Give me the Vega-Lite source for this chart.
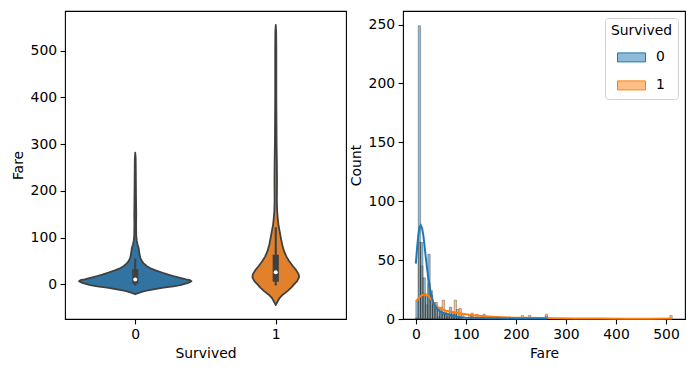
{
  "$schema": "https://vega.github.io/schema/vega-lite/v6.json",
  "padding": {"left": 10, "top": 10, "right": 9, "bottom": 8},
  "spacing": 1,
  "config": {
    "font": "DejaVu Sans",
    "view": {"stroke": "black", "strokeWidth": 1.1},
    "axis": {"domain": false, "grid": false, "tickColor": "black", "tickSize": 4.9, "tickWidth": 1.1, "labelColor": "black", "labelFontSize": 13.9, "labelPadding": 3.5, "titleColor": "black", "titleFontSize": 13.9, "titleFontWeight": "normal", "titlePadding": 5, "labelFont": "DejaVu Sans", "titleFont": "DejaVu Sans"}
  },
  "resolve": {"scale": {"fill": "independent", "stroke": "independent"}, "legend": {"fill": "independent"}},
  "datasets": {
    "violin": [
      {"s": 0, "fare": -21, "lo": 0, "hi": 0},
      {"s": 0, "fare": -17, "lo": -0.035, "hi": 0.035},
      {"s": 0, "fare": -14, "lo": -0.071, "hi": 0.071},
      {"s": 0, "fare": -10, "lo": -0.14, "hi": 0.14},
      {"s": 0, "fare": -7, "lo": -0.2, "hi": 0.2},
      {"s": 0, "fare": -4, "lo": -0.27, "hi": 0.27},
      {"s": 0, "fare": -1.5, "lo": -0.32, "hi": 0.32},
      {"s": 0, "fare": 2, "lo": -0.365, "hi": 0.365},
      {"s": 0, "fare": 5, "lo": -0.39, "hi": 0.39},
      {"s": 0, "fare": 7, "lo": -0.4, "hi": 0.4},
      {"s": 0, "fare": 9, "lo": -0.39, "hi": 0.39},
      {"s": 0, "fare": 11, "lo": -0.36, "hi": 0.36},
      {"s": 0, "fare": 14, "lo": -0.32, "hi": 0.32},
      {"s": 0, "fare": 18, "lo": -0.27, "hi": 0.27},
      {"s": 0, "fare": 21, "lo": -0.235, "hi": 0.235},
      {"s": 0, "fare": 25, "lo": -0.195, "hi": 0.195},
      {"s": 0, "fare": 30, "lo": -0.145, "hi": 0.145},
      {"s": 0, "fare": 35, "lo": -0.105, "hi": 0.105},
      {"s": 0, "fare": 39, "lo": -0.083, "hi": 0.083},
      {"s": 0, "fare": 45, "lo": -0.06, "hi": 0.06},
      {"s": 0, "fare": 50, "lo": -0.047, "hi": 0.047},
      {"s": 0, "fare": 57, "lo": -0.036, "hi": 0.036},
      {"s": 0, "fare": 65, "lo": -0.03, "hi": 0.03},
      {"s": 0, "fare": 72, "lo": -0.027, "hi": 0.027},
      {"s": 0, "fare": 78, "lo": -0.024, "hi": 0.024},
      {"s": 0, "fare": 85, "lo": -0.017, "hi": 0.017},
      {"s": 0, "fare": 93, "lo": -0.011, "hi": 0.011},
      {"s": 0, "fare": 105, "lo": -0.007, "hi": 0.007},
      {"s": 0, "fare": 130, "lo": -0.006, "hi": 0.006},
      {"s": 0, "fare": 150, "lo": -0.007, "hi": 0.007},
      {"s": 0, "fare": 170, "lo": -0.006, "hi": 0.006},
      {"s": 0, "fare": 200, "lo": -0.005, "hi": 0.005},
      {"s": 0, "fare": 240, "lo": -0.004, "hi": 0.004},
      {"s": 0, "fare": 270, "lo": -0.003, "hi": 0.003},
      {"s": 0, "fare": 282, "lo": 0, "hi": 0},
      {"s": 1, "fare": -44, "lo": 1, "hi": 1},
      {"s": 1, "fare": -38, "lo": 0.99, "hi": 1.01},
      {"s": 1, "fare": -33, "lo": 0.98, "hi": 1.02},
      {"s": 1, "fare": -28.6, "lo": 0.972, "hi": 1.028},
      {"s": 1, "fare": -22, "lo": 0.95, "hi": 1.05},
      {"s": 1, "fare": -14.3, "lo": 0.917, "hi": 1.083},
      {"s": 1, "fare": -7, "lo": 0.89, "hi": 1.11},
      {"s": 1, "fare": 0, "lo": 0.87, "hi": 1.13},
      {"s": 1, "fare": 7, "lo": 0.848, "hi": 1.152},
      {"s": 1, "fare": 15, "lo": 0.834, "hi": 1.166},
      {"s": 1, "fare": 22, "lo": 0.837, "hi": 1.163},
      {"s": 1, "fare": 32, "lo": 0.858, "hi": 1.142},
      {"s": 1, "fare": 40, "lo": 0.88, "hi": 1.12},
      {"s": 1, "fare": 50, "lo": 0.905, "hi": 1.095},
      {"s": 1, "fare": 60, "lo": 0.925, "hi": 1.075},
      {"s": 1, "fare": 71, "lo": 0.941, "hi": 1.059},
      {"s": 1, "fare": 85, "lo": 0.954, "hi": 1.046},
      {"s": 1, "fare": 100, "lo": 0.964, "hi": 1.036},
      {"s": 1, "fare": 115, "lo": 0.973, "hi": 1.027},
      {"s": 1, "fare": 128, "lo": 0.981, "hi": 1.019},
      {"s": 1, "fare": 142, "lo": 0.986, "hi": 1.014},
      {"s": 1, "fare": 157, "lo": 0.99, "hi": 1.01},
      {"s": 1, "fare": 180, "lo": 0.992, "hi": 1.008},
      {"s": 1, "fare": 220, "lo": 0.991, "hi": 1.009},
      {"s": 1, "fare": 260, "lo": 0.992, "hi": 1.008},
      {"s": 1, "fare": 300, "lo": 0.994, "hi": 1.006},
      {"s": 1, "fare": 350, "lo": 0.995, "hi": 1.005},
      {"s": 1, "fare": 400, "lo": 0.996, "hi": 1.004},
      {"s": 1, "fare": 450, "lo": 0.996, "hi": 1.004},
      {"s": 1, "fare": 500, "lo": 0.996, "hi": 1.004},
      {"s": 1, "fare": 540, "lo": 0.997, "hi": 1.003},
      {"s": 1, "fare": 555, "lo": 1, "hi": 1}
    ],
    "box": [
      {"s": 0, "pos": 0, "wlo": 0, "whi": 53.1, "q1": 7.854, "q3": 26, "med": 10.5},
      {"s": 1, "pos": 1, "wlo": 0, "whi": 120, "q1": 12.475, "q3": 57, "med": 26}
    ],
    "hist": [
      {"s": 1, "x0": 0, "x1": 4.788, "n": 1},
      {"s": 1, "x0": 4.788, "x1": 9.576, "n": 65},
      {"s": 1, "x0": 9.576, "x1": 14.364, "n": 45},
      {"s": 1, "x0": 14.364, "x1": 19.152, "n": 22},
      {"s": 1, "x0": 19.152, "x1": 23.94, "n": 12},
      {"s": 1, "x0": 23.94, "x1": 28.728, "n": 30},
      {"s": 1, "x0": 28.728, "x1": 33.516, "n": 20},
      {"s": 1, "x0": 33.516, "x1": 38.304, "n": 14},
      {"s": 1, "x0": 38.304, "x1": 43.092, "n": 8},
      {"s": 1, "x0": 43.092, "x1": 47.88, "n": 2},
      {"s": 1, "x0": 47.88, "x1": 52.668, "n": 10},
      {"s": 1, "x0": 52.668, "x1": 57.456, "n": 16},
      {"s": 1, "x0": 57.456, "x1": 62.244, "n": 6},
      {"s": 1, "x0": 62.244, "x1": 67.032, "n": 5},
      {"s": 1, "x0": 67.032, "x1": 71.82, "n": 4},
      {"s": 1, "x0": 71.82, "x1": 76.608, "n": 3},
      {"s": 1, "x0": 76.608, "x1": 81.396, "n": 16},
      {"s": 1, "x0": 81.396, "x1": 86.184, "n": 8},
      {"s": 1, "x0": 86.184, "x1": 90.972, "n": 9},
      {"s": 1, "x0": 90.972, "x1": 95.76, "n": 4},
      {"s": 1, "x0": 105.336, "x1": 110.124, "n": 3},
      {"s": 1, "x0": 110.124, "x1": 114.912, "n": 5},
      {"s": 1, "x0": 119.7, "x1": 124.488, "n": 4},
      {"s": 1, "x0": 129.276, "x1": 134.064, "n": 2},
      {"s": 1, "x0": 134.064, "x1": 138.852, "n": 4},
      {"s": 1, "x0": 143.64, "x1": 148.428, "n": 2},
      {"s": 1, "x0": 148.428, "x1": 153.216, "n": 2},
      {"s": 1, "x0": 153.216, "x1": 158.004, "n": 2},
      {"s": 1, "x0": 162.792, "x1": 167.58, "n": 2},
      {"s": 1, "x0": 210.672, "x1": 215.46, "n": 3},
      {"s": 1, "x0": 225.036, "x1": 229.824, "n": 3},
      {"s": 1, "x0": 244.188, "x1": 248.976, "n": 1},
      {"s": 1, "x0": 258.552, "x1": 263.34, "n": 4},
      {"s": 1, "x0": 507.54, "x1": 512.33, "n": 3},
      {"s": 0, "x0": 0, "x1": 4.788, "n": 15},
      {"s": 0, "x0": 4.788, "x1": 9.576, "n": 249},
      {"s": 0, "x0": 9.576, "x1": 14.364, "n": 65},
      {"s": 0, "x0": 14.364, "x1": 19.152, "n": 35},
      {"s": 0, "x0": 19.152, "x1": 23.94, "n": 19},
      {"s": 0, "x0": 23.94, "x1": 28.728, "n": 55},
      {"s": 0, "x0": 28.728, "x1": 33.516, "n": 24},
      {"s": 0, "x0": 33.516, "x1": 38.304, "n": 12},
      {"s": 0, "x0": 38.304, "x1": 43.092, "n": 14},
      {"s": 0, "x0": 43.092, "x1": 47.88, "n": 8},
      {"s": 0, "x0": 47.88, "x1": 52.668, "n": 6},
      {"s": 0, "x0": 52.668, "x1": 57.456, "n": 4},
      {"s": 0, "x0": 57.456, "x1": 62.244, "n": 4},
      {"s": 0, "x0": 62.244, "x1": 67.032, "n": 2},
      {"s": 0, "x0": 67.032, "x1": 71.82, "n": 10},
      {"s": 0, "x0": 71.82, "x1": 76.608, "n": 6},
      {"s": 0, "x0": 76.608, "x1": 81.396, "n": 4},
      {"s": 0, "x0": 81.396, "x1": 86.184, "n": 2},
      {"s": 0, "x0": 86.184, "x1": 90.972, "n": 1},
      {"s": 0, "x0": 105.336, "x1": 110.124, "n": 1},
      {"s": 0, "x0": 110.124, "x1": 114.912, "n": 2},
      {"s": 0, "x0": 119.7, "x1": 124.488, "n": 1},
      {"s": 0, "x0": 134.064, "x1": 138.852, "n": 1},
      {"s": 0, "x0": 148.428, "x1": 153.216, "n": 2},
      {"s": 0, "x0": 153.216, "x1": 158.004, "n": 1},
      {"s": 0, "x0": 210.672, "x1": 215.46, "n": 1},
      {"s": 0, "x0": 220.248, "x1": 225.036, "n": 1},
      {"s": 0, "x0": 225.036, "x1": 229.824, "n": 1},
      {"s": 0, "x0": 244.188, "x1": 248.976, "n": 1},
      {"s": 0, "x0": 258.552, "x1": 263.34, "n": 2}
    ],
    "kde": [
      {"s": 1, "fare": 0, "n": 15},
      {"s": 1, "fare": 5, "n": 17.5},
      {"s": 1, "fare": 10, "n": 19.5},
      {"s": 1, "fare": 15, "n": 20.6},
      {"s": 1, "fare": 20, "n": 21},
      {"s": 1, "fare": 25, "n": 19.8},
      {"s": 1, "fare": 30, "n": 17},
      {"s": 1, "fare": 35, "n": 14},
      {"s": 1, "fare": 40, "n": 11.5},
      {"s": 1, "fare": 45, "n": 9.8},
      {"s": 1, "fare": 50, "n": 8.6},
      {"s": 1, "fare": 55, "n": 7.8},
      {"s": 1, "fare": 60, "n": 7.1},
      {"s": 1, "fare": 70, "n": 6.2},
      {"s": 1, "fare": 80, "n": 5.5},
      {"s": 1, "fare": 90, "n": 4.7},
      {"s": 1, "fare": 100, "n": 4},
      {"s": 1, "fare": 110, "n": 3.4},
      {"s": 1, "fare": 125, "n": 2.8},
      {"s": 1, "fare": 140, "n": 2.3},
      {"s": 1, "fare": 160, "n": 1.8},
      {"s": 1, "fare": 190, "n": 1.3},
      {"s": 1, "fare": 220, "n": 1.1},
      {"s": 1, "fare": 250, "n": 0.9},
      {"s": 1, "fare": 280, "n": 0.7},
      {"s": 1, "fare": 320, "n": 0.5},
      {"s": 1, "fare": 370, "n": 0.35},
      {"s": 1, "fare": 420, "n": 0.3},
      {"s": 1, "fare": 470, "n": 0.3},
      {"s": 1, "fare": 512.33, "n": 0.35},
      {"s": 0, "fare": 0, "n": 47},
      {"s": 0, "fare": 2.5, "n": 60},
      {"s": 0, "fare": 5, "n": 71},
      {"s": 0, "fare": 7.5, "n": 78},
      {"s": 0, "fare": 10, "n": 79.5},
      {"s": 0, "fare": 12.5, "n": 77},
      {"s": 0, "fare": 15, "n": 71},
      {"s": 0, "fare": 17.5, "n": 62},
      {"s": 0, "fare": 20, "n": 52},
      {"s": 0, "fare": 22.5, "n": 43},
      {"s": 0, "fare": 25, "n": 35},
      {"s": 0, "fare": 27.5, "n": 28},
      {"s": 0, "fare": 30, "n": 22},
      {"s": 0, "fare": 33, "n": 17},
      {"s": 0, "fare": 36, "n": 13},
      {"s": 0, "fare": 40, "n": 10},
      {"s": 0, "fare": 45, "n": 7.5},
      {"s": 0, "fare": 50, "n": 6},
      {"s": 0, "fare": 56, "n": 5},
      {"s": 0, "fare": 62, "n": 4.2},
      {"s": 0, "fare": 70, "n": 3.2},
      {"s": 0, "fare": 80, "n": 2.2},
      {"s": 0, "fare": 90, "n": 1.5},
      {"s": 0, "fare": 100, "n": 1.1},
      {"s": 0, "fare": 120, "n": 0.8},
      {"s": 0, "fare": 150, "n": 0.6},
      {"s": 0, "fare": 200, "n": 0.5},
      {"s": 0, "fare": 263, "n": 0.4}
    ]
  },
  "hconcat": [
    {
      "width": 281,
      "height": 308,
      "layer": [
        {
          "data": {"name": "violin"},
          "mark": {"type": "area", "orient": "horizontal", "stroke": "#404040", "strokeWidth": 1.8, "strokeJoin": "round"},
          "encoding": {
            "y": {"field": "fare", "type": "quantitative", "scale": {"domain": [-74, 585], "nice": false, "zero": false}, "axis": {"values": [0, 100, 200, 300, 400, 500], "title": "Fare"}},
            "x": {"field": "lo", "type": "quantitative", "stack": null, "scale": {"domain": [-0.5, 1.5], "nice": false, "zero": false}, "axis": {"values": [0, 1], "format": "d", "title": "Survived"}},
            "x2": {"field": "hi"},
            "fill": {"field": "s", "type": "nominal", "scale": {"domain": [0, 1], "range": ["#3274a1", "#e1812c"]}, "legend": null}
          }
        },
        {
          "data": {"name": "box"},
          "mark": {"type": "rule", "color": "#404040", "strokeWidth": 2.1, "strokeCap": "square"},
          "encoding": {
            "x": {"field": "pos", "type": "quantitative"},
            "y": {"field": "wlo", "type": "quantitative"},
            "y2": {"field": "whi"}
          }
        },
        {
          "data": {"name": "box"},
          "mark": {"type": "rule", "color": "#404040", "strokeWidth": 6.2, "strokeCap": "square"},
          "encoding": {
            "x": {"field": "pos", "type": "quantitative"},
            "y": {"field": "q1", "type": "quantitative"},
            "y2": {"field": "q3"}
          }
        },
        {
          "data": {"name": "box"},
          "mark": {"type": "point", "filled": true, "color": "white", "size": 16, "opacity": 1},
          "encoding": {
            "x": {"field": "pos", "type": "quantitative"},
            "y": {"field": "med", "type": "quantitative"}
          }
        }
      ]
    },
    {
      "width": 282,
      "height": 308,
      "layer": [
        {
          "data": {"name": "hist"},
          "mark": {"type": "rect", "fillOpacity": 0.5, "stroke": "black", "strokeWidth": 0.5, "strokeOpacity": 0.55},
          "encoding": {
            "x": {"field": "x0", "type": "quantitative", "scale": {"domain": [-25.6, 537.9], "nice": false, "zero": false}, "axis": {"values": [0, 100, 200, 300, 400, 500], "title": "Fare"}},
            "x2": {"field": "x1"},
            "y": {"field": "n", "type": "quantitative", "stack": null, "scale": {"domain": [0, 261.5], "nice": false}, "axis": {"values": [0, 50, 100, 150, 200, 250], "title": "Count"}},
            "y2": {"datum": 0},
            "fill": {
              "field": "s", "type": "nominal",
              "scale": {"domain": [0, 1], "range": ["#1f77b4", "#ff7f0e"]},
              "legend": {
                "title": "Survived", "orient": "top-right", "offset": 7,
                "titleFontSize": 13.9, "titleFontWeight": "normal", "titleColor": "black", "titleFont": "DejaVu Sans",
                "labelFontSize": 13.9, "labelColor": "black", "labelFont": "DejaVu Sans",
                "symbolType": "M-1,-0.32H1V0.32H-1Z", "symbolSize": 784,
                "symbolStrokeColor": "black", "symbolStrokeWidth": 1,
                "strokeColor": "#d0d0d0", "fillColor": "white", "cornerRadius": 3, "padding": 6,
                "rowPadding": 6, "labelOffset": 10, "symbolOffset": 6,
                "encode": {"symbols": {"enter": {"stroke": {"value": "black"}}, "update": {"fillOpacity": {"value": 0.5}, "stroke": {"value": "black"}, "strokeOpacity": {"value": 1}, "strokeWidth": {"value": 1}, "opacity": {"value": 1}}}}
              }
            }
          }
        },
        {
          "data": {"name": "kde"},
          "mark": {"type": "line", "strokeWidth": 2},
          "encoding": {
            "x": {"field": "fare", "type": "quantitative"},
            "y": {"field": "n", "type": "quantitative"},
            "stroke": {"field": "s", "type": "nominal", "scale": {"domain": [0, 1], "range": ["#1f77b4", "#ff7f0e"]}, "legend": null}
          }
        }
      ]
    }
  ]
}
